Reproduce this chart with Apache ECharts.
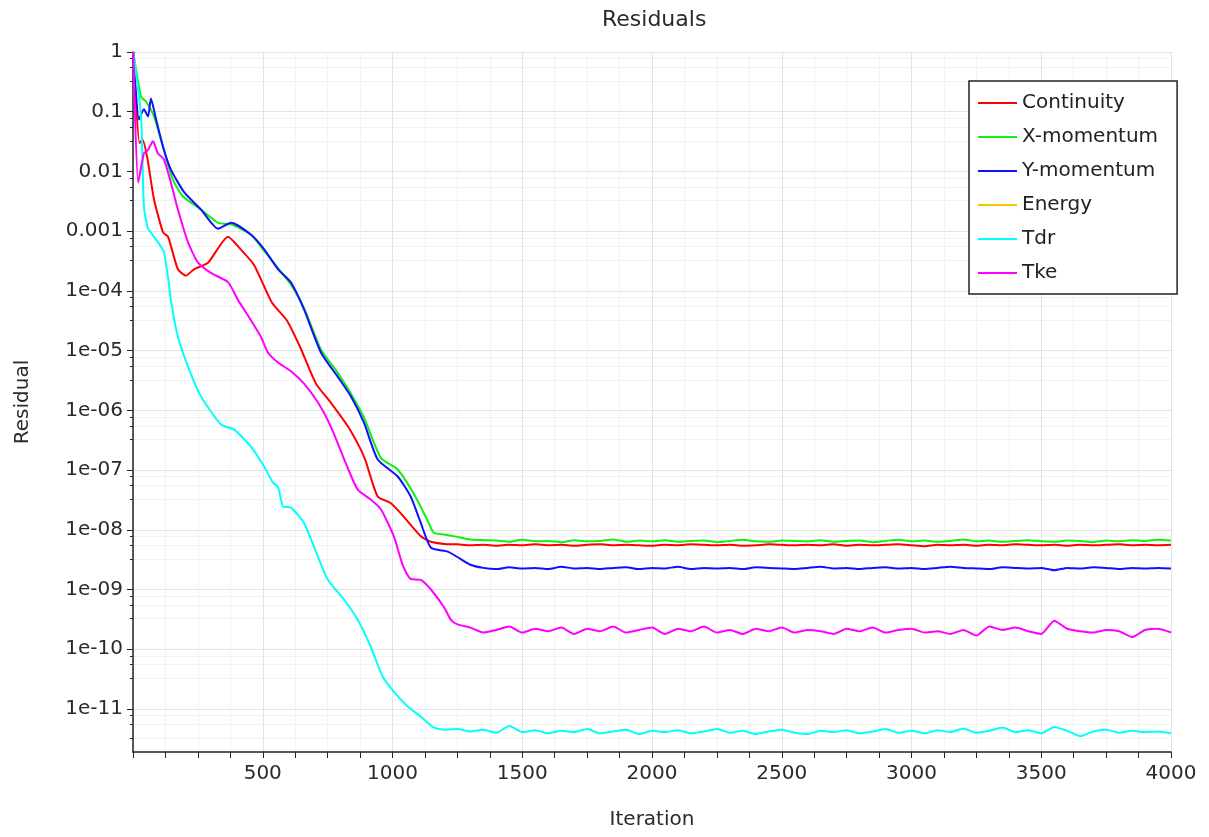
<!DOCTYPE html>
<html>
<head>
<meta charset="utf-8">
<title>Residuals</title>
<script src="https://cdn.jsdelivr.net/npm/echarts@6/dist/echarts.min.js"></script>
<style>
  html, body { margin: 0; padding: 0; background: #fff; }
  #main { width: 1209px; height: 837px; }
</style>
</head>
<body>
<div id="main"></div>
<script>
// series names / colours
const seriesNames = ['Continuity', 'X-momentum', 'Y-momentum', 'Energy', 'Tdr', 'Tke']
const seriesColors = ['#ff0000', '#11ee11', '#1010ff', '#ffc400', '#00ffff', '#ff00ff']

// y axis labelled decades
const decades = [1, 0.1, 0.01, 0.001, 1e-4, 1e-5, 1e-6, 1e-7, 1e-8, 1e-9, 1e-10, 1e-11]

// converging part of each run [iteration, residual]
const continuityHead = [[1, 1], [25, 3.0e-2], [37, 3.4e-2], [56, 1.6e-2], [81, 3.4e-3], [116, 9.5e-4], [135, 8.1e-4],
  [173, 2.3e-4], [204, 1.8e-4], [235, 2.3e-4], [289, 2.95e-4], [366, 8.1e-4], [416, 4.9e-4], [466, 2.75e-4],
  [536, 6.3e-5], [593, 3.2e-5], [643, 1.17e-5], [705, 2.8e-6], [762, 1.35e-6], [828, 5.4e-7], [878, 2.2e-7],
  [897, 1.4e-7], [943, 3.6e-8], [993, 2.8e-8], [1043, 1.66e-8], [1109, 7.8e-9], [1148, 6.3e-9], [1200, 5.8e-9]]
const xMomHead = [[1, 1], [31, 0.178], [50, 0.148], [81, 0.083], [119, 0.023], [154, 0.0072], [193, 0.0038],
  [262, 0.0023], [328, 0.00138], [378, 0.0013], [455, 8.7e-4], [500, 5e-4], [559, 2.4e-4], [609, 1.26e-4],
  [659, 5.2e-5], [724, 1.05e-5], [790, 4.2e-6], [840, 1.9e-6], [890, 7.6e-7], [955, 1.6e-7], [1020, 1.02e-7],
  [1082, 4e-8], [1136, 1.4e-8], [1159, 8.9e-9], [1200, 8.3e-9]]
const yMomHead = [[1, 1], [23, 0.074], [42, 0.11], [58, 0.083], [69, 0.166], [89, 0.074], [119, 0.023],
  [146, 0.0107], [197, 0.0045], [262, 0.0023], [328, 0.0011], [378, 0.00138], [455, 8.7e-4], [505, 5e-4],
  [559, 2.3e-4], [609, 1.38e-4], [659, 4.9e-5], [724, 9.3e-6], [790, 3.6e-6], [840, 1.7e-6], [890, 6.2e-7],
  [943, 1.5e-7], [1020, 7.8e-8], [1070, 3.6e-8], [1109, 1.3e-8], [1148, 5e-9], [1213, 4.3e-9]]
const energyHead = []
const tdrHead = [[1, 1], [31, 0.083], [42, 0.0026], [58, 0.0011], [69, 9.5e-4], [89, 7.2e-4], [108, 5.5e-4],
  [119, 4.5e-4], [135, 1.7e-4], [146, 7e-5], [173, 1.7e-5], [212, 5.4e-6], [262, 1.7e-6], [339, 5.8e-7],
  [389, 4.8e-7], [455, 2.45e-7], [505, 1.15e-7], [539, 6.2e-8], [559, 5.2e-8], [578, 2.45e-8], [609, 2.35e-8],
  [659, 1.3e-8], [713, 3.5e-9], [751, 1.45e-9], [813, 6.8e-10], [866, 3.1e-10], [916, 1.1e-10], [962, 3.5e-11],
  [1009, 1.86e-11], [1059, 1.1e-11], [1109, 7.4e-12], [1159, 4.9e-12], [1200, 4.5e-12]]
const tkeHead = [[1, 1], [20, 0.0065], [42, 0.02], [58, 0.023], [77, 0.032], [96, 0.02], [119, 0.016],
  [146, 0.0065], [173, 0.0023], [212, 6.5e-4], [250, 3e-4], [300, 2e-4], [366, 1.4e-4], [405, 7e-5],
  [455, 3.2e-5], [493, 1.7e-5], [520, 9.3e-6], [559, 6.3e-6], [609, 4.5e-6], [659, 2.8e-6], [713, 1.35e-6],
  [762, 5.4e-7], [828, 1.07e-7], [866, 4.7e-8], [916, 3.2e-8], [955, 2.2e-8], [1005, 7.8e-9], [1040, 2.5e-9],
  [1070, 1.5e-9], [1109, 1.45e-9], [1148, 1e-9], [1198, 5.1e-10], [1225, 3.1e-10]]

// converged part, iterations 1250..4000 every 50
const tailIters = []
for (let it = 1250; it <= 4000; it += 50) tailIters.push(it)

const continuityTail = [
  5.7e-9, 5.5e-9, 5.6e-9, 5.4e-9, 5.6e-9, 5.5e-9, 5.7e-9, 5.5e-9,
  5.6e-9, 5.4e-9, 5.6e-9, 5.7e-9, 5.5e-9, 5.6e-9, 5.5e-9, 5.4e-9,
  5.6e-9, 5.5e-9, 5.7e-9, 5.6e-9, 5.5e-9, 5.6e-9, 5.4e-9, 5.5e-9,
  5.7e-9, 5.6e-9, 5.5e-9, 5.6e-9, 5.5e-9, 5.7e-9, 5.4e-9, 5.6e-9,
  5.5e-9, 5.6e-9, 5.7e-9, 5.5e-9, 5.3e-9, 5.6e-9, 5.5e-9, 5.6e-9,
  5.4e-9, 5.6e-9, 5.5e-9, 5.7e-9, 5.6e-9, 5.5e-9, 5.6e-9, 5.4e-9,
  5.6e-9, 5.5e-9, 5.6e-9, 5.7e-9, 5.5e-9, 5.6e-9, 5.5e-9, 5.6e-9]
const xMomTail = [
  7.6e-9, 6.9e-9, 6.7e-9, 6.6e-9, 6.3e-9, 6.8e-9, 6.4e-9, 6.5e-9,
  6.2e-9, 6.7e-9, 6.4e-9, 6.5e-9, 6.9e-9, 6.3e-9, 6.6e-9, 6.4e-9,
  6.7e-9, 6.3e-9, 6.5e-9, 6.6e-9, 6.2e-9, 6.5e-9, 6.8e-9, 6.4e-9,
  6.3e-9, 6.6e-9, 6.5e-9, 6.4e-9, 6.7e-9, 6.3e-9, 6.5e-9, 6.6e-9,
  6.2e-9, 6.5e-9, 6.8e-9, 6.4e-9, 6.6e-9, 6.3e-9, 6.5e-9, 6.9e-9,
  6.4e-9, 6.6e-9, 6.3e-9, 6.5e-9, 6.7e-9, 6.4e-9, 6.3e-9, 6.6e-9,
  6.5e-9, 6.2e-9, 6.6e-9, 6.4e-9, 6.7e-9, 6.5e-9, 6.8e-9, 6.6e-9]
const yMomTail = [
  3.5e-9, 2.6e-9, 2.3e-9, 2.2e-9, 2.35e-9, 2.25e-9, 2.3e-9, 2.2e-9,
  2.4e-9, 2.25e-9, 2.3e-9, 2.2e-9, 2.3e-9, 2.35e-9, 2.2e-9, 2.3e-9,
  2.25e-9, 2.4e-9, 2.2e-9, 2.3e-9, 2.25e-9, 2.3e-9, 2.2e-9, 2.35e-9,
  2.3e-9, 2.25e-9, 2.2e-9, 2.3e-9, 2.4e-9, 2.25e-9, 2.3e-9, 2.2e-9,
  2.3e-9, 2.35e-9, 2.25e-9, 2.3e-9, 2.2e-9, 2.3e-9, 2.4e-9, 2.3e-9,
  2.25e-9, 2.2e-9, 2.35e-9, 2.3e-9, 2.25e-9, 2.3e-9, 2.1e-9, 2.3e-9,
  2.25e-9, 2.35e-9, 2.3e-9, 2.2e-9, 2.3e-9, 2.25e-9, 2.3e-9, 2.25e-9]
const energyTail = []
const tdrTail = [
  4.6e-12, 4.2e-12, 4.5e-12, 4.0e-12, 5.2e-12, 4.1e-12, 4.4e-12, 3.9e-12,
  4.3e-12, 4.1e-12, 4.6e-12, 3.9e-12, 4.2e-12, 4.5e-12, 3.8e-12, 4.3e-12,
  4.1e-12, 4.4e-12, 3.9e-12, 4.2e-12, 4.6e-12, 4.0e-12, 4.3e-12, 3.8e-12,
  4.2e-12, 4.5e-12, 4.0e-12, 3.8e-12, 4.3e-12, 4.1e-12, 4.4e-12, 3.9e-12,
  4.2e-12, 4.6e-12, 4.0e-12, 4.3e-12, 3.9e-12, 4.4e-12, 4.1e-12, 4.7e-12,
  4.0e-12, 4.3e-12, 4.9e-12, 4.1e-12, 4.4e-12, 3.9e-12, 5.0e-12, 4.3e-12,
  3.5e-12, 4.2e-12, 4.5e-12, 4.0e-12, 4.3e-12, 4.1e-12, 4.2e-12, 3.9e-12]
const tkeTail = [
  2.6e-10, 2.3e-10, 1.9e-10, 2.1e-10, 2.4e-10, 1.9e-10, 2.2e-10, 2.0e-10,
  2.3e-10, 1.8e-10, 2.2e-10, 2.0e-10, 2.4e-10, 1.9e-10, 2.1e-10, 2.3e-10,
  1.8e-10, 2.2e-10, 2.0e-10, 2.4e-10, 1.9e-10, 2.1e-10, 1.8e-10, 2.2e-10,
  2.0e-10, 2.3e-10, 1.9e-10, 2.1e-10, 2.0e-10, 1.8e-10, 2.2e-10, 2.0e-10,
  2.3e-10, 1.9e-10, 2.1e-10, 2.2e-10, 1.9e-10, 2.0e-10, 1.8e-10, 2.1e-10,
  1.7e-10, 2.4e-10, 2.1e-10, 2.3e-10, 2.0e-10, 1.8e-10, 3.0e-10, 2.2e-10,
  2.0e-10, 1.9e-10, 2.1e-10, 2.0e-10, 1.6e-10, 2.1e-10, 2.2e-10, 1.9e-10]

const heads = [continuityHead, xMomHead, yMomHead, energyHead, tdrHead, tkeHead]
const tails = [continuityTail, xMomTail, yMomTail, energyTail, tdrTail, tkeTail]

// light minor grid: 4 linear steps inside each decade
const minorVals = []
decades.concat([1e-12]).forEach(d => { if (d < 1) minorVals.push(3.25 * d, 5.5 * d, 7.75 * d) })

function fmtResidual(v) {
  const e = Math.round(Math.log10(v))
  if (e === 0) return '1'
  if (e >= -3) return v.toFixed(-e)
  return '1e-' + String(-e).padStart(2, '0')
}

const chart = echarts.init(document.getElementById('main'))
const axisColor = '#222'
const txtColor = '#2a2a2a'

const series = seriesNames.map((name, i) => ({
  name: name,
  type: 'line',
  data: heads[i].concat(tails[i].map((v, k) => [tailIters[k], v])),
  showSymbol: false,
  symbol: 'none',
  smooth: 0.2,
  color: seriesColors[i],
  lineStyle: { width: 2, color: seriesColors[i] },
  emphasis: { disabled: true }
}))

chart.setOption({
  animation: false,
  textStyle: { fontFamily: 'DejaVu Sans' },
  title: {
    text: 'Residuals',
    left: 597,
    top: 4,
    textStyle: { fontSize: 22, fontWeight: 'normal', color: txtColor }
  },
  legend: {
    orient: 'vertical',
    left: 969,
    top: 81,
    data: seriesNames,
    icon: 'rect',
    itemWidth: 39,
    itemHeight: 2,
    itemGap: 14,
    padding: [12, 19, 11, 9],
    borderColor: axisColor,
    borderWidth: 1.5,
    backgroundColor: '#fff',
    textStyle: { fontSize: 20, color: '#222', lineHeight: 20 }
  },
  grid: { left: 133, right: 38, top: 52, bottom: 85 },
  xAxis: {
    type: 'value',
    min: 0,
    max: 4000,
    interval: 500,
    name: 'Iteration',
    nameLocation: 'middle',
    nameGap: 58,
    nameTextStyle: { fontSize: 20, color: txtColor },
    axisLine: { lineStyle: { color: axisColor, width: 1.5 } },
    axisTick: { length: 6, lineStyle: { color: axisColor } },
    minorTick: { show: true, splitNumber: 4, length: 6, lineStyle: { color: axisColor } },
    axisLabel: { fontSize: 20, color: txtColor, margin: 12, showMinLabel: false, formatter: v => String(v) },
    splitLine: { show: true, lineStyle: { color: '#e3e3e3' } },
    minorSplitLine: { show: true, lineStyle: { color: '#f2f2f2' } }
  },
  yAxis: [{
    type: 'log',
    logBase: 10,
    min: 1.9e-12,
    max: 1,
    name: 'Residual',
    nameLocation: 'middle',
    nameGap: 100,
    nameTextStyle: { fontSize: 20, color: txtColor },
    axisLine: { show: true, lineStyle: { color: axisColor, width: 1.5 } },
    axisTick: { show: true, length: 6, customValues: decades, lineStyle: { color: axisColor } },
    axisLabel: { fontSize: 20, color: txtColor, margin: 10, customValues: decades, formatter: fmtResidual },
    splitLine: { show: true, lineStyle: { color: '#e3e3e3' } }
  }, {
    type: 'log',
    logBase: 10,
    min: 1.9e-12,
    max: 1,
    position: 'left',
    offset: 0,
    axisLine: { show: false },
    axisLabel: { show: false },
    axisTick: { show: true, length: 3, customValues: minorVals, lineStyle: { color: axisColor } },
    splitLine: { show: true, lineStyle: { color: '#f2f2f2' } }
  }],
  series: series
})
</script>
</body>
</html>
